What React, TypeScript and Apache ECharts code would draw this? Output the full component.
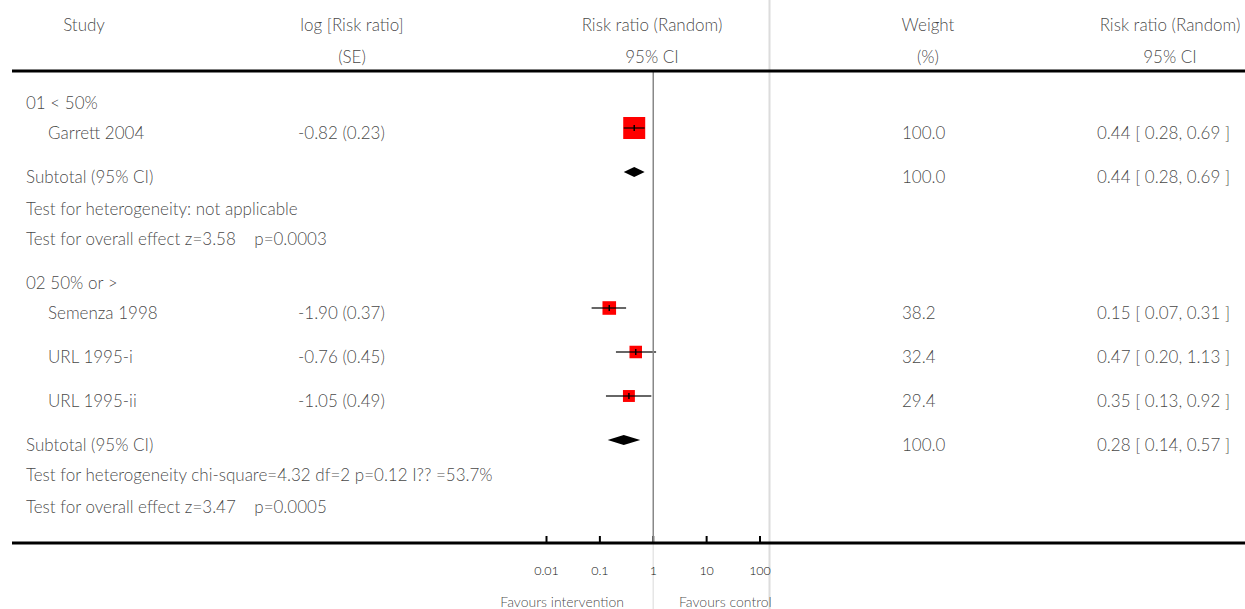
import React, { useEffect, useRef } from "react";
import * as echarts from "echarts";

// ---------- data ----------
const studyNames = ["Garrett 2004", "Semenza 1998", "URL 1995-i", "URL 1995-ii"];
const studyLogRR = [-0.82, -1.9, -0.76, -1.05];
const studySE = [0.23, 0.37, 0.45, 0.49];
const studyRR = [0.44, 0.15, 0.47, 0.35];
const studyLo = [0.28, 0.07, 0.2, 0.13];
const studyHi = [0.69, 0.31, 1.13, 0.92];
const studyWeight = [100.0, 38.2, 32.4, 29.4];

const groupLabels = ["01 < 50%", "02 50% or >"];
const subtotalRR = [0.44, 0.28];
const subtotalLo = [0.28, 0.14];
const subtotalHi = [0.69, 0.57];
const subtotalWeight = [100.0, 100.0];
const heterogeneityTexts = [
  "Test for heterogeneity: not applicable",
  "Test for heterogeneity chi-square=4.32 df=2 p=0.12 I?? =53.7%",
];
const overallTexts = [
  "Test for overall effect z=3.58    p=0.0003",
  "Test for overall effect z=3.47    p=0.0005",
];

const headerTop = ["Study", "log [Risk ratio]", "Risk ratio (Random)", "Weight", "Risk ratio (Random)"];
const headerBottom = ["", "(SE)", "95% CI", "(%)", "95% CI"];
const tickValues = [0.01, 0.1, 1, 10, 100];
const tickLabels = ["0.01", "0.1", "1", "10", "100"];
const favoursLeft = "Favours intervention";
const favoursRight = "Favours control";

// ---------- layout ----------
const W = 1245;
const H = 609;
const FONT = "Lato";
const TEXT_COLOR = "#111";
const FS = 17;
const headerX = [84, 352, 652, 928, 1170];
const headerY = [24, 56];
const xGroup = 26;
const xStudy = 48;
const xLog = 298;
const xWeight = 902;
const xCI = 1097;
const topRuleY = 71;
const axisY = 543;
const plotLeft = 546.5; // pixel of 0.01
const plotRight = 760; // pixel of 100
const sepX = 769.5;
const TEXT_DY = 4;
// marker row positions (pixels from top)
const studyRowY = [128, 308, 352, 396];
const groupRowY = [102, 282];
const subtotalRowY = [172, 440];
const hetRowY = [208, 474];
const overallRowY = [238, 506];
const BOX = 22;

const fmt2 = (v: number) => v.toFixed(2);
const ciText = (rr: number, lo: number, hi: number) => `${fmt2(rr)} [ ${fmt2(lo)}, ${fmt2(hi)} ]`;

export default function App() {
  const ref = useRef<HTMLDivElement>(null);
  useEffect(() => {
    if (!ref.current) return;
    const chart = echarts.init(ref.current, null, { renderer: "svg" });

    const texts: any[] = [];
    const addText = (name: string, x: number, y: number, align: string, fontSize = FS) => {
      texts.push({ name, value: [x, y], label: { align, fontSize } });
    };
    headerTop.forEach((t, i) => addText(t, headerX[i], headerY[0], "center"));
    headerBottom.forEach((t, i) => t && addText(t, headerX[i], headerY[1], "center"));
    groupLabels.forEach((g, gi) => {
      addText(g, xGroup, groupRowY[gi], "left");
      addText("Subtotal (95% CI)", xGroup, subtotalRowY[gi] + TEXT_DY, "left");
      addText(subtotalWeight[gi].toFixed(1), xWeight, subtotalRowY[gi] + TEXT_DY, "left");
      addText(ciText(subtotalRR[gi], subtotalLo[gi], subtotalHi[gi]), xCI, subtotalRowY[gi] + TEXT_DY, "left");
      addText(heterogeneityTexts[gi], xGroup, hetRowY[gi], "left");
      addText(overallTexts[gi], xGroup, overallRowY[gi], "left");
    });
    studyNames.forEach((n, i) => {
      const y = studyRowY[i] + TEXT_DY;
      addText(n, xStudy, y, "left");
      addText(`${fmt2(studyLogRR[i])} (${fmt2(studySE[i])})`, xLog, y, "left");
      addText(studyWeight[i].toFixed(1), xWeight, y, "left");
      addText(ciText(studyRR[i], studyLo[i], studyHi[i]), xCI, y, "left");
    });
    addText(favoursLeft, 624, 601, "right", 14);
    addText(favoursRight, 679, 601, "left", 14);

    const studyData = studyNames.map((n, i) => ({
      name: n,
      value: [studyRR[i], studyLo[i], studyHi[i], studyRowY[i], studyWeight[i]],
    }));
    const diamondData = groupLabels.map((g, gi) => ({
      name: g,
      value: [subtotalRR[gi], subtotalLo[gi], subtotalHi[gi], subtotalRowY[gi]],
    }));

    const option: any = {
      animation: false,
      grid: [
        { left: 0, right: 0, top: 0, bottom: 0 },
        { left: plotLeft, right: W - plotRight, top: 0, bottom: H - axisY },
      ],
      xAxis: [
        { gridIndex: 0, type: "value", min: 0, max: W, show: false },
        {
          gridIndex: 1,
          type: "log",
          logBase: 10,
          min: 0.01,
          max: 100,
          splitNumber: 4,
          z: 10,
          axisLine: { show: false },
          axisTick: { show: false },
          axisLabel: {
            color: TEXT_COLOR,
            fontSize: 12.5,
            fontFamily: FONT,
            fontWeight: 300,
            margin: 21,
            formatter: (v: number) => {
              const k = tickValues.findIndex((t) => Math.abs(Math.log10(t) - Math.log10(v)) < 1e-6);
              return k >= 0 ? tickLabels[k] : "";
            },
          },
          splitLine: { show: false },
        },
      ],
      yAxis: [
        { gridIndex: 0, type: "value", min: 0, max: H, inverse: true, show: false },
        { gridIndex: 1, type: "value", min: 0, max: axisY, inverse: true, show: false },
      ],
      series: [
        {
          type: "line",
          xAxisIndex: 0,
          yAxisIndex: 0,
          symbol: "none",
          silent: true,
          z: 1,
          lineStyle: { color: "#dcdcdc", width: 2 },
          data: [
            [sepX, 0],
            [sepX, H],
          ],
        },
        {
          type: "line",
          xAxisIndex: 1,
          yAxisIndex: 1,
          symbol: "none",
          silent: true,
          clip: false,
          z: 1,
          lineStyle: { color: "#e6e6e6", width: 1.5 },
          data: [
            [1, axisY],
            [1, H],
          ],
        },
        {
          type: "line",
          xAxisIndex: 1,
          yAxisIndex: 1,
          symbol: "none",
          silent: true,
          lineStyle: { color: "#888", width: 1.5 },
          data: [
            [1, topRuleY],
            [1, axisY],
          ],
        },
        {
          type: "line",
          xAxisIndex: 0,
          yAxisIndex: 0,
          symbol: "none",
          silent: true,
          lineStyle: { color: "#000", width: 3 },
          data: [
            [12, topRuleY],
            [W, topRuleY],
          ],
        },
        {
          type: "line",
          xAxisIndex: 0,
          yAxisIndex: 0,
          symbol: "none",
          silent: true,
          lineStyle: { color: "#000", width: 3 },
          data: [
            [12, axisY],
            [W, axisY],
          ],
        },
        {
          type: "custom",
          xAxisIndex: 1,
          yAxisIndex: 1,
          silent: true,
          encode: { x: 0, y: 1 },
          data: tickValues.map((v) => [v, axisY]),
          renderItem: (params: any, api: any) => {
            const p = api.coord([api.value(0), api.value(1)]);
            return {
              type: "line",
              shape: { x1: p[0], y1: p[1], x2: p[0], y2: p[1] - 7 },
              style: { stroke: "#000", lineWidth: 2 },
            };
          },
        },
        {
          type: "custom",
          xAxisIndex: 1,
          yAxisIndex: 1,
          encode: { x: [0, 1, 2], y: 3 },
          data: studyData,
          renderItem: (params: any, api: any) => {
            const y = api.value(3);
            const c = api.coord([api.value(0), y]);
            const l = api.coord([api.value(1), y]);
            const h = api.coord([api.value(2), y]);
            const s = BOX * Math.sqrt(api.value(4) / 100);
            return {
              type: "group",
              children: [
                { type: "rect", shape: { x: c[0] - s / 2, y: c[1] - s / 2, width: s, height: s }, style: { fill: "#ff0000" } },
                { type: "line", shape: { x1: l[0], y1: c[1], x2: h[0], y2: c[1] }, style: { stroke: "rgba(0,0,0,0.6)", lineWidth: 2 } },
                { type: "line", shape: { x1: c[0], y1: c[1] - 3, x2: c[0], y2: c[1] + 3 }, style: { stroke: "#000", lineWidth: 1.5 } },
              ],
            };
          },
        },
        {
          type: "custom",
          xAxisIndex: 1,
          yAxisIndex: 1,
          encode: { x: [0, 1, 2], y: 3 },
          data: diamondData,
          renderItem: (params: any, api: any) => {
            const y = api.value(3);
            const c = api.coord([api.value(0), y]);
            const l = api.coord([api.value(1), y]);
            const h = api.coord([api.value(2), y]);
            return {
              type: "polygon",
              shape: {
                points: [
                  [l[0], c[1]],
                  [c[0], c[1] - 5],
                  [h[0], c[1]],
                  [c[0], c[1] + 5],
                ],
              },
              style: { fill: "#000" },
            };
          },
        },
        {
          type: "scatter",
          xAxisIndex: 0,
          yAxisIndex: 0,
          symbolSize: 0,
          silent: true,
          z: 5,
          data: texts,
          label: {
            show: true,
            position: [0, 0],
            verticalAlign: "middle",
            formatter: "{b}",
            color: TEXT_COLOR,
            fontFamily: FONT,
            fontWeight: 300,
          },
        },
      ],
    };
    chart.setOption(option);
    return () => chart.dispose();
  }, []);
  return <div ref={ref} style={{ position: "absolute", left: 0, top: 0, width: W, height: H }} />;
}
